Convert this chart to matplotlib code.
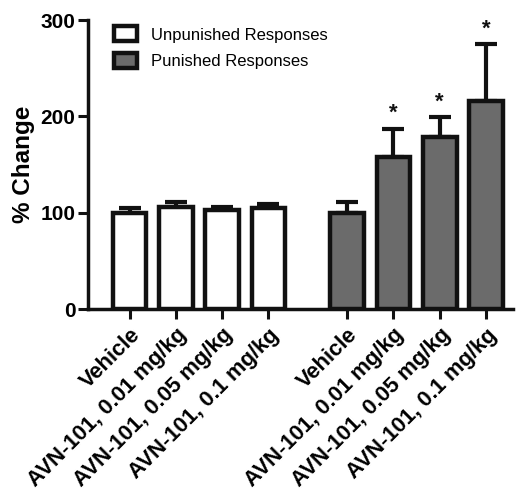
import matplotlib
matplotlib.use("Agg")
import matplotlib.pyplot as plt
import numpy as np

plt.rcParams['font.family'] = ['Liberation Sans', 'DejaVu Sans']

labels = ["Vehicle", "AVN-101, 0.01 mg/kg", "AVN-101, 0.05 mg/kg", "AVN-101, 0.1 mg/kg"]
unpunished = [100, 106, 103, 105]
unpunished_err = [5, 5, 3, 4]
punished = [100, 158, 179, 216]
punished_err = [11, 29, 20, 59]
sig_punished = [False, True, True, True]

fig = plt.figure(figsize=(5.17, 4.9), dpi=100)
ax = fig.add_axes([0.170, 0.369, 0.822, 0.590])

x1 = np.arange(4)
x2 = np.arange(4) + 4.7
w = 0.73
lw = 3.2

ax.bar(x1, unpunished, w, color='white', edgecolor='#111111', linewidth=lw,
       label='Unpunished Responses', zorder=2)
ax.bar(x2, punished, w, color='#6b6b6b', edgecolor='#111111', linewidth=lw,
       label='Punished Responses', zorder=2)
ax.errorbar(x1, unpunished, yerr=[np.zeros(4), unpunished_err], fmt='none',
            ecolor='#111111', elinewidth=3, capsize=8, capthick=3, zorder=1)
ax.errorbar(x2, punished, yerr=[np.zeros(4), punished_err], fmt='none',
            ecolor='#111111', elinewidth=3, capsize=8, capthick=3, zorder=1)

for xi, v, e, s in zip(x2, punished, punished_err, sig_punished):
    if s:
        ax.text(xi, v + e + 5, '*', ha='center', va='bottom', fontsize=16,
                fontweight='bold', color='#111111')

ax.set_xlim(-0.9, 8.28)
ax.set_ylim(0, 300)
ax.set_yticks([0, 100, 200, 300])
ax.set_yticklabels(['0', '100', '200', '300'], fontsize=15, fontweight='bold')
ax.set_xticks(list(x1) + list(x2))
ax.set_xticklabels(labels + labels, rotation=45, ha='right', rotation_mode='anchor',
                   fontsize=15.8, fontweight='bold')
ax.set_ylabel('% Change', fontsize=17.5, fontweight='bold', labelpad=4)

for sp in ['top', 'right']:
    ax.spines[sp].set_visible(False)
for sp in ['left', 'bottom']:
    ax.spines[sp].set_linewidth(2.5)
    ax.spines[sp].set_color('#111111')
ax.tick_params(axis='both', direction='out', width=2.2, length=7, color='#111111')
ax.tick_params(axis='x', pad=4)
ax.tick_params(axis='y', pad=2)

leg = ax.legend(loc='upper left', bbox_to_anchor=(0.026, 1.03), frameon=False,
                fontsize=12, handlelength=1.4, handleheight=1.0, labelspacing=0.6,
                handletextpad=0.8)

fig.savefig('out.png', dpi=100)
